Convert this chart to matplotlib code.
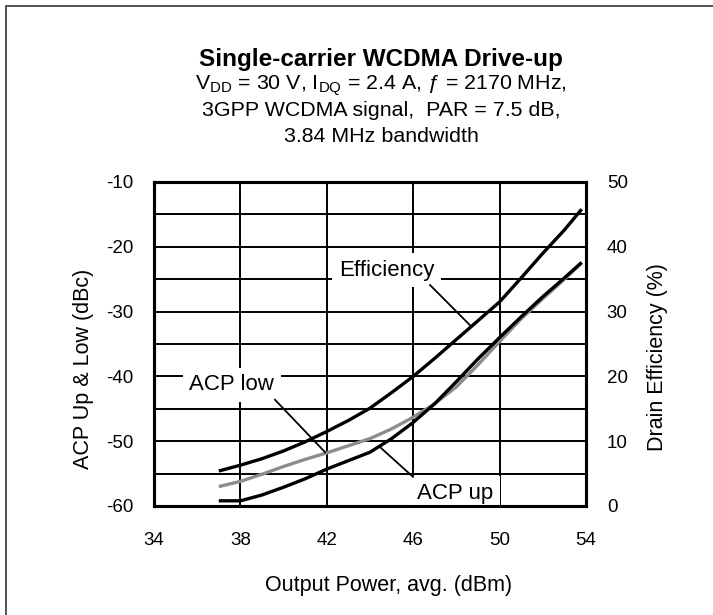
import matplotlib.pyplot as plt
import matplotlib.patches as patches
import numpy as np

plt.rcParams['font.family'] = ['Liberation Sans', 'DejaVu Sans']
plt.rcParams['mathtext.fontset'] = 'custom'
plt.rcParams['mathtext.rm'] = 'Liberation Sans'
plt.rcParams['axes.unicode_minus'] = False

# data
pout = [37, 38, 39, 40, 41, 42, 43, 44, 45, 46, 47, 48, 49, 50, 51, 52, 53, 53.8]
efficiency = [5.4, 6.3, 7.3, 8.5, 9.9, 11.5, 13.2, 15.1, 17.5, 20.0, 22.8, 25.7,
              28.6, 31.5, 35.2, 39.0, 42.6, 45.8]
acp_low = [-57.0, -56.2, -55.1, -53.9, -52.8, -51.8, -50.7, -49.6, -48.1, -46.3,
           -44.2, -41.6, -38.2, -34.6, -31.1, -28.0, -25.0, -22.5]
acp_up = [-59.2, -59.2, -58.3, -57.1, -55.8, -54.3, -53.0, -51.7, -49.6, -47.1,
          -44.2, -40.8, -37.3, -34.0, -30.8, -27.7, -24.8, -22.4]
x_ticks = [34, 38, 42, 46, 50, 54]
acp_ticks = [-60, -50, -40, -30, -20, -10]
eff_ticks = [0, 10, 20, 30, 40, 50]

fig = plt.figure(figsize=(7.13, 6.15), dpi=100)
ax = fig.add_axes([154 / 713, 1 - 506 / 615, 432 / 713, 324 / 615])
ax2 = ax.twinx()

# grid
ax.set_xlim(34, 54)
ax.set_ylim(-60, -10)
ax.set_xticks(x_ticks)
ax.set_yticks(acp_ticks)
ax.set_yticks(np.arange(-55, -10, 10), minor=True)
ax.grid(True, which='both', color='black', lw=1.4)
ax.set_axisbelow(True)
for sp in ax.spines.values():
    sp.set_linewidth(2.2)
for sp in ax2.spines.values():
    sp.set_linewidth(2.2)

ax.plot(pout, acp_low, color='#8c8c8c', lw=2.4, solid_capstyle='butt', zorder=3)
ax.plot(pout, acp_up, color='black', lw=2.4, solid_capstyle='butt', zorder=4)

ax2.set_ylim(0, 50)
ax2.set_yticks(eff_ticks)
ax2.plot(pout, efficiency, color='black', lw=2.4, solid_capstyle='butt')

ax.tick_params(axis='both', which='both', length=0, labelsize=13.5)
ax.tick_params(axis='x', pad=19)
ax.tick_params(axis='y', pad=15)
ax2.tick_params(axis='y', length=0, labelsize=13.5, pad=15)

ax.set_xlabel('Output Power, avg. (dBm)', fontsize=15.5)
ax.set_ylabel('ACP Up & Low (dBc)', fontsize=15.5)
ax2.set_ylabel('Drain Efficiency (%)', fontsize=15.5)
ax.xaxis.set_label_coords((389 - 154) / 432, -(575 - 506) / 324)
ax.yaxis.set_label_coords(-(154 - 94) / 432, (506 - 369) / 324)
ax2.yaxis.set_label_coords((647 - 154) / 432, (506 - 357) / 324)

# curve labels with leader lines
box = dict(facecolor='white', edgecolor='none', boxstyle='square,pad=0.3')
ax.text(44.76, -23.6, 'Efficiency', fontsize=16, ha='center', va='center', bbox=box, zorder=5)
ax.plot([46.78, 48.63], [-25.9, -32.1], color='black', lw=1.3, zorder=5)
ax.text(37.6, -41.3, 'ACP low', fontsize=16, ha='center', va='center', bbox=box, zorder=5)
ax.plot([39.6, 41.92], [-43.6, -51.7], color='black', lw=1.3, zorder=5)
ax.text(47.94, -58.0, 'ACP up', fontsize=16, ha='center', va='center', bbox=box, zorder=5)
ax.plot([44.46, 45.99], [-50.9, -55.5], color='black', lw=1.3, zorder=5)

# titles
cx = 381 / 713
fig.text(cx, 1 - 66 / 615, 'Single-carrier WCDMA Drive-up', fontsize=17.5,
         fontweight='bold', ha='center', va='baseline')
fig.text(cx, 1 - 89 / 615,
         r'V$_{\mathregular{DD}}$ = 30 V, I$_{\mathregular{DQ}}$ = 2.4 A, ƒ = 2170 MHz,',
         fontsize=15.4, ha='center', va='baseline')
fig.text(cx, 1 - 116 / 615, '3GPP WCDMA signal,  PAR = 7.5 dB,', fontsize=15.4,
         ha='center', va='baseline')
fig.text(cx, 1 - 142 / 615, '3.84 MHz bandwidth', fontsize=15.4, ha='center', va='baseline')

# outer frame (only left and top edges show in the crop)
frame = patches.Rectangle((6 / 713, -0.1), 2, 1 - 6 / 615 + 0.1, transform=fig.transFigure,
                          fill=False, edgecolor='#333333', lw=1.2, clip_on=False)
fig.patches.append(frame)

fig.savefig('out.png', dpi=100)
